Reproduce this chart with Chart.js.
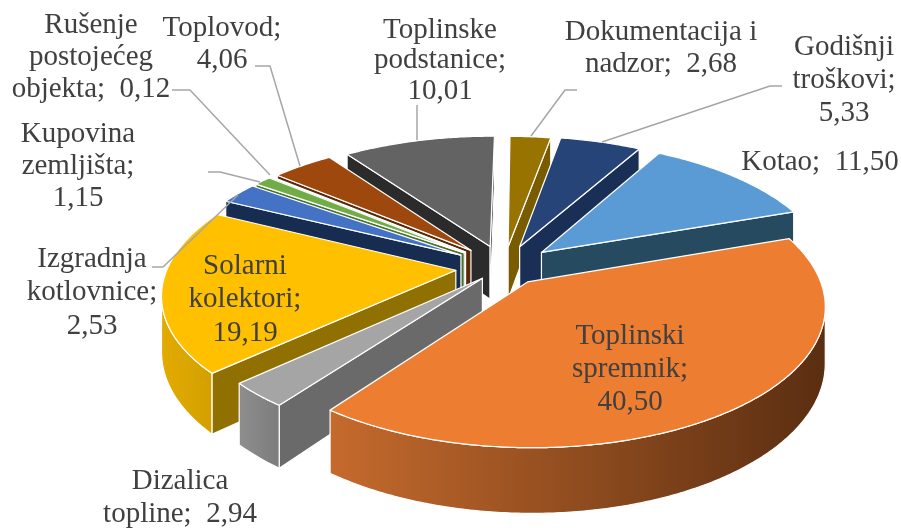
<!DOCTYPE html>
<html><head><meta charset="utf-8">
<style>html,body{margin:0;padding:0;background:#fff}canvas{display:block}</style>
<script src="https://cdn.jsdelivr.net/npm/chart.js@4/dist/chart.umd.min.js"></script>
</head><body><canvas id="c" width="901" height="530"></canvas>
<script>
const categories = ['Kotao','Toplinski spremnik','Dizalica topline','Solarni kolektori','Izgradnja kotlovnice','Kupovina zemljišta','Rušenje postojećeg objekta','Toplovod','Toplinske podstanice','Dokumentacija i nadzor','Godišnji troškovi'];
const values = [11.50,40.50,2.94,19.19,2.53,1.15,0.12,4.06,10.01,2.68,5.33];
const topColors = ['#5B9BD5','#ED7D31','#A5A5A5','#FFC000','#4472C4','#70AD47','#255E91','#9E480E','#636363','#997300','#264478'];
const cutColors = ['#264A60','#8A4A1C','#6A6A6A','#8F7000','#172C51','#4A7330','#16385A','#5A2A08','#2B2B2B','#7A5C00','#1A2F55'];
const wallColors = [['#2F5B76','#264A60'],['#C56A2D','#5A2E11'],['#8E8E8E','#7C7C7C'],['#E3AB00','#D2A000'],['#2F4F87','#2F4F87'],['#4A7330','#4A7330'],['#16385A','#16385A'],['#5A2A08','#5A2A08'],['#3A3A3A','#3A3A3A'],['#6A5000','#6A5000'],['#1A2F55','#1A2F55']];
const explode = [42,33,27,41,43,43,43,42,40,38,40];
const labelLines = [['Kotao;  11,50'],['Toplinski','spremnik;','40,50'],['Dizalica','topline;  2,94'],['Solarni','kolektori;','19,19'],['Izgradnja','kotlovnice;','2,53'],['Kupovina','zemljišta;','1,15'],['Rušenje','postojećeg','objekta;  0,12'],['Toplovod;','4,06'],['Toplinske','podstanice;','10,01'],['Dokumentacija i','nadzor;  2,68'],['Godišnji','troškovi;','5,33']];
const labelAnchors = [[820,162,0],[630,336,33],[180,481,33],[245,266,33.5],[92,259,33.5],[78,134,32],[91,25,32],[222,28,32],[440,30,30.5],[661,32,32],[844,47,33]];
const leaders = [[],[],[],[],[[152,267],[163,267],[238,195]],[[208,172],[220,172],[260,182]],[[172,90],[190,90],[270,175]],[[255,66],[270,66],[300,166]],[[417,105],[417,140]],[[577,90],[565,90],[531,136]],[[782,86],[770,86],[602,142]]];

const CX=504, CY=267, AX=288, BY=134, PERSP=0.16, DEPTH=54;
function project(U,V,z){const w=1/(1-PERSP*V);return [CX+AX*U*w, CY+BY*V*w+z*w];}
function area(pts){let s=0;for(let i=0;i<pts.length;i++){const a=pts[i],b=pts[(i+1)%pts.length];s+=a[0]*b[1]-b[0]*a[1];}return s;}
function poly(ctx,pts,fill){ctx.beginPath();pts.forEach((p,i)=>i?ctx.lineTo(p[0],p[1]):ctx.moveTo(p[0],p[1]));ctx.closePath();ctx.fillStyle=fill;ctx.fill();ctx.stroke();}

const pie3d={id:'pie3d',beforeDatasetsDraw(chart){
  const ctx=chart.ctx,meta=chart.getDatasetMeta(0);
  ctx.save();ctx.lineJoin='round';ctx.strokeStyle='#fff';ctx.lineWidth=1.2;
  const slices=meta.data.map((arc,i)=>{
    const p=arc.getProps(['startAngle','endAngle','outerRadius'],true);
    const mid=(p.startAngle+p.endAngle)/2,e=arc.options.offset/p.outerRadius;
    return {i,s:p.startAngle,t:p.endAngle,mid,e};
  });
  slices.sort((a,b)=>Math.sin(a.mid)-Math.sin(b.mid));
  slices.forEach(sl=>{
    const ou=sl.e*Math.cos(sl.mid),ov=sl.e*Math.sin(sl.mid);
    const rim=[];const n=Math.max(2,Math.ceil((sl.t-sl.s)/0.01));
    for(let k=0;k<=n;k++){const a=sl.s+(sl.t-sl.s)*k/n;rim.push([ou+Math.cos(a),ov+Math.sin(a)]);}
    const tip=[ou,ov],d=DEPTH;
    const top=[tip,...rim].map(q=>project(q[0],q[1],0));
    const faces=[[tip,rim[0]],[rim[n],tip]];
    faces.forEach(f=>{
      const q=[project(f[0][0],f[0][1],0),project(f[1][0],f[1][1],0),project(f[1][0],f[1][1],d),project(f[0][0],f[0][1],d)];
      if(area(q)<0)poly(ctx,q,cutColors[sl.i]);
    });
    let run=[];const runs=[];
    for(let k=0;k<n;k++){
      const q=[project(rim[k][0],rim[k][1],0),project(rim[k+1][0],rim[k+1][1],0),project(rim[k+1][0],rim[k+1][1],d),project(rim[k][0],rim[k][1],d)];
      if(area(q)<0){if(!run.length)run.push(k);run[1]=k+1;}
      else if(run.length){runs.push(run);run=[];}
    }
    if(run.length)runs.push(run);
    runs.forEach(r=>{
      const up=[],down=[];
      for(let k=r[0];k<=r[1];k++){up.push(project(rim[k][0],rim[k][1],0));down.unshift(project(rim[k][0],rim[k][1],d));}
      const pts=up.concat(down),xs=pts.map(q=>q[0]);
      const g=ctx.createLinearGradient(Math.min(...xs),0,Math.max(...xs),0);
      g.addColorStop(0,wallColors[sl.i][0]);g.addColorStop(1,wallColors[sl.i][1]);
      poly(ctx,pts,g);
    });
    poly(ctx,top,topColors[sl.i]);
  });
  ctx.strokeStyle='#A6A6A6';ctx.lineWidth=1.5;
  leaders.forEach(l=>{if(!l.length)return;ctx.beginPath();l.forEach((q,i)=>i?ctx.lineTo(q[0],q[1]):ctx.moveTo(q[0],q[1]));ctx.stroke();});
  ctx.fillStyle='#404040';ctx.font='29px "Liberation Serif"';ctx.textAlign='center';ctx.textBaseline='middle';
  labelLines.forEach((lines,i)=>{const a=labelAnchors[i];lines.forEach((t,j)=>ctx.fillText(t,a[0],a[1]+j*a[2]));});
  ctx.restore();
  return false;
}};
new Chart(document.getElementById('c'),{type:'pie',
  data:{labels:categories,datasets:[{data:values,backgroundColor:topColors,offset:explode,borderWidth:0}]},
  options:{responsive:false,animation:false,rotation:29.4,layout:{padding:0},plugins:{legend:{display:false},tooltip:{enabled:false}}},
  plugins:[pie3d]});
</script></body></html>
